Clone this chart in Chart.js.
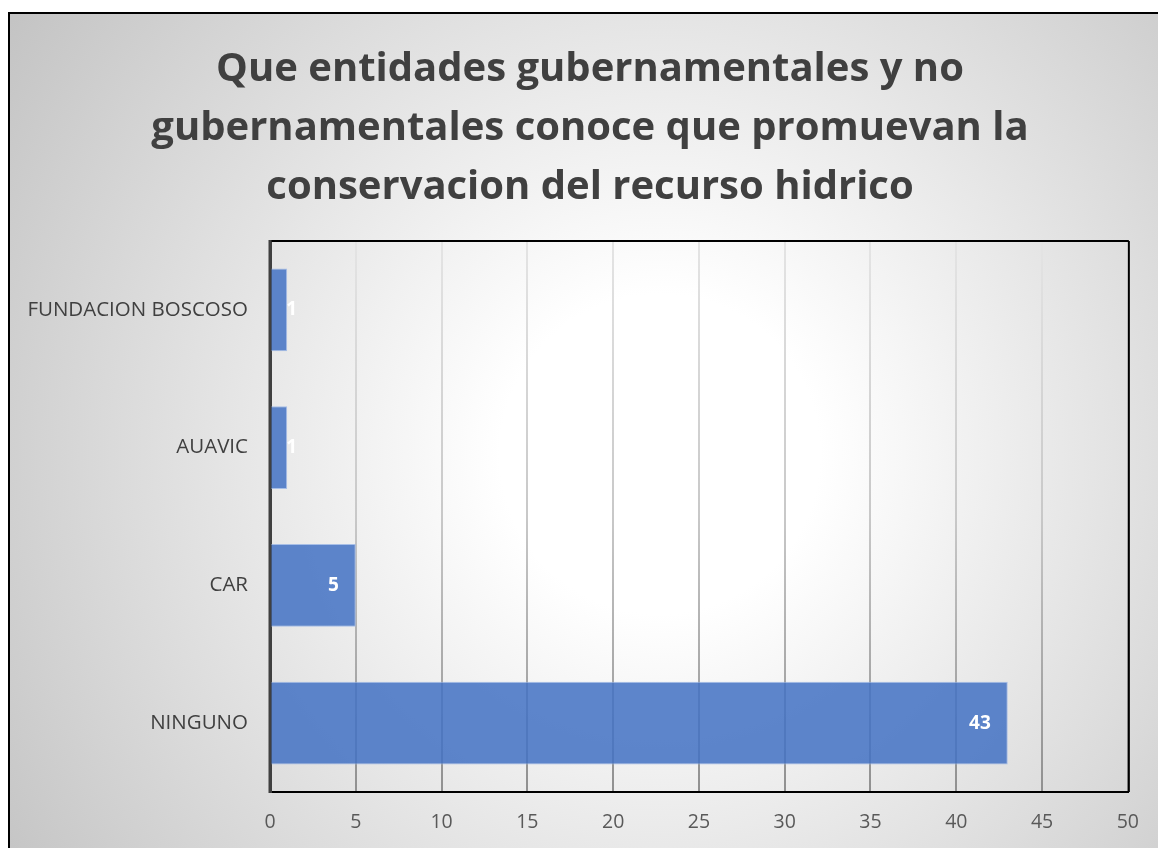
<!DOCTYPE html>
<html>
<head>
<meta charset="utf-8">
<script src="https://cdn.jsdelivr.net/npm/chart.js@4.4.1/dist/chart.umd.min.js"></script>
<style>
  html, body { margin: 0; padding: 0; background: #ffffff; width: 1158px; height: 848px; overflow: hidden; }
  #frame {
    position: absolute; left: 8px; top: 12px; width: 1170px; height: 860px;
    border: 2px solid #000; box-sizing: border-box;
    background: radial-gradient(circle at 650px 440px, #ffffff 0px, #ffffff 160px, #c2c2c2 800px);
  }
  #c { position: absolute; left: 0; top: 0; }
</style>
</head>
<body>
<div id="frame"></div>
<canvas id="c" width="1158" height="848"></canvas>
<script>
const titleLines = [
  'Que entidades gubernamentales y no',
  'gubernamentales conoce que promuevan la',
  'conservacion del recurso hidrico'
];
const categories = ['FUNDACION BOSCOSO', 'AUAVIC', 'CAR', 'NINGUNO'];
const values = [1, 1, 5, 43];
const xMin = 0;
const xMax = 50;
const xStep = 5;

const FONT = "'Open Sans', 'Liberation Sans', sans-serif";

// shift the title box so it is centred over x = 590 like the original
const titleShift = {
  id: 'titleShift',
  afterLayout(chart) {
    if (chart.titleBlock) {
      chart.titleBlock.left = 50;
    }
  }
};

const plotBorder = {
  id: 'plotBorder',
  afterDraw(chart) {
    const { ctx, chartArea: a } = chart;
    ctx.save();
    ctx.strokeStyle = '#000';
    ctx.lineWidth = 2;
    ctx.beginPath();
    ctx.moveTo(a.left, a.top);
    ctx.lineTo(a.right + 1, a.top);
    ctx.moveTo(a.right + 1, a.top);
    ctx.lineTo(a.right + 1, a.bottom);
    ctx.stroke();
    ctx.strokeStyle = '#404040';
    ctx.lineWidth = 3;
    ctx.beginPath();
    ctx.moveTo(a.left, a.top - 1);
    ctx.lineTo(a.left, a.bottom + 1);
    ctx.stroke();
    ctx.restore();
  }
};

const barLabels = {
  id: 'barLabels',
  afterDatasetsDraw(chart) {
    const { ctx } = chart;
    const meta = chart.getDatasetMeta(0);
    ctx.save();
    ctx.fillStyle = '#ffffff';
    ctx.font = 'bold 19px ' + FONT;
    ctx.textAlign = 'right';
    ctx.textBaseline = 'middle';
    meta.data.forEach((el, i) => {
      const x = Math.max(el.x - 17, el.base + 26);
      ctx.fillText(String(chart.data.datasets[0].data[i]), x, el.y);
    });
    ctx.restore();
  }
};

new Chart(document.getElementById('c'), {
  type: 'bar',
  data: {
    labels: categories,
    datasets: [{
      data: values,
      backgroundColor: 'rgba(68,114,196,0.86)',
      borderColor: 'rgba(160,185,230,0.9)',
      borderWidth: 1,
      borderSkipped: 'start',
      barPercentage: 0.6,
      categoryPercentage: 1.0
    }]
  },
  options: {
    indexAxis: 'y',
    responsive: false,
    animation: false,
    layout: { padding: { left: 0, right: 28, top: 0, bottom: 0 } },
    plugins: {
      legend: { display: false },
      tooltip: { enabled: false },
      title: {
        display: true,
        text: titleLines,
        color: '#404040',
        font: { family: FONT, size: 40, weight: 'bold', lineHeight: 59 / 40 },
        padding: { top: 40, bottom: 24 }
      }
    },
    scales: {
      x: {
        min: xMin,
        max: xMax,
        ticks: {
          stepSize: xStep,
          color: '#595959',
          font: { family: FONT, size: 19.5 },
          padding: 19
        },
        grid: {
          drawTicks: false,
          lineWidth: 2,
          color: (ctx) => {
            const chart = ctx.chart;
            const a = chart.chartArea;
            if (!a) return '#bbbbbb';
            const g = chart.ctx.createLinearGradient(0, a.top, 0, a.bottom);
            g.addColorStop(0, '#e4e4e4');
            g.addColorStop(0.5, '#c8c8c8');
            g.addColorStop(1, '#909090');
            return g;
          }
        },
        border: { color: '#000000', width: 2 },
        afterFit(scale) { scale.height = 56; }
      },
      y: {
        ticks: {
          color: '#404040',
          font: { family: FONT, size: 20.5 },
          padding: 22
        },
        grid: { display: false, drawTicks: false },
        border: { color: '#404040', width: 3 },
        afterFit(scale) { scale.width = 270; }
      }
    }
  },
  plugins: [titleShift, plotBorder, barLabels]
});
</script>
</body>
</html>
